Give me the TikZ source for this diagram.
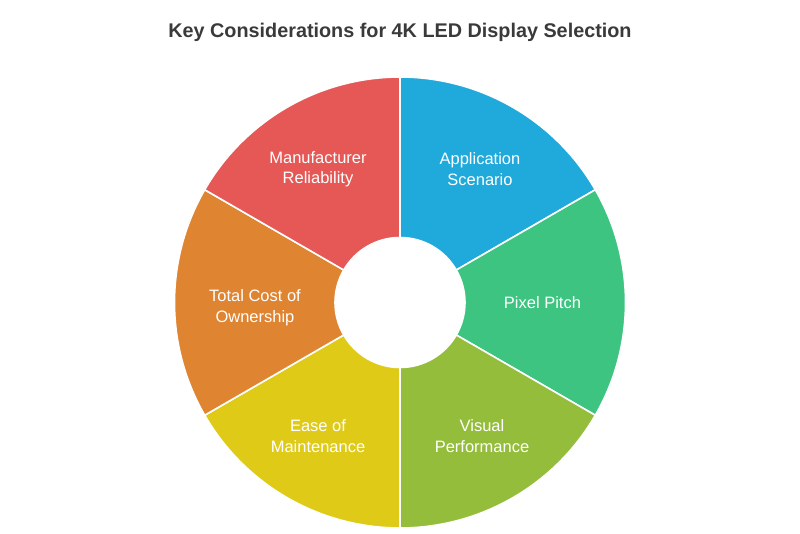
\documentclass[tikz,border=0pt]{standalone}
\usepackage{fontspec}
\setmainfont{Liberation Sans}
\usepackage{xcolor}
\usetikzlibrary{positioning}

\definecolor{appblue}{HTML}{20A9DB}
\definecolor{pitchgreen}{HTML}{3DC480}
\definecolor{visualgreen}{HTML}{93BD3A}
\definecolor{easeyellow}{HTML}{DFCA18}
\definecolor{costorange}{HTML}{DF8430}
\definecolor{mfrred}{HTML}{E55856}
\definecolor{titlegray}{HTML}{3A3A3A}

\begin{document}
\begin{tikzpicture}[
  x=1pt, y=1pt,
  every node/.style={font=\fontsize{16.5}{20.5}\selectfont},
  wedge/.style={draw=white, line width=1.6pt},
  lbl/.style={text=white, align=center, inner sep=0pt},
  heading/.style={font=\fontsize{19.8}{24}\selectfont\bfseries, text=titlegray}
]
% page frame, centre of the ring at the origin
\useasboundingbox (-400,-230.5) rectangle (400,302.5);

% Ring segments, clockwise from the top
\fill[appblue, wedge] (90:65) -- (90:225.5) arc[start angle=90, end angle=30, radius=225.5]
  -- (30:65) arc[start angle=30, end angle=90, radius=65] -- cycle;
\fill[pitchgreen, wedge] (30:65) -- (30:225.5) arc[start angle=30, end angle=-30, radius=225.5]
  -- (-30:65) arc[start angle=-30, end angle=30, radius=65] -- cycle;
\fill[visualgreen, wedge] (-30:65) -- (-30:225.5) arc[start angle=-30, end angle=-90, radius=225.5]
  -- (-90:65) arc[start angle=-90, end angle=-30, radius=65] -- cycle;
\fill[easeyellow, wedge] (-90:65) -- (-90:225.5) arc[start angle=-90, end angle=-150, radius=225.5]
  -- (-150:65) arc[start angle=-150, end angle=-90, radius=65] -- cycle;
\fill[costorange, wedge] (210:65) -- (210:225.5) arc[start angle=210, end angle=150, radius=225.5]
  -- (150:65) arc[start angle=150, end angle=210, radius=65] -- cycle;
\fill[mfrred, wedge] (150:65) -- (150:225.5) arc[start angle=150, end angle=90, radius=225.5]
  -- (90:65) arc[start angle=90, end angle=150, radius=65] -- cycle;

% Title
\node[heading] (title) at (0,270.5) {Key Considerations for 4K LED Display Selection};

% Segment labels
\node[lbl] (app)    at (80,133.5)   {Application\\Scenario};
\node[lbl] (pitch)  at (142.5,0)    {Pixel Pitch};
\node[lbl] (visual) at (82,-133.5)  {Visual\\Performance};
\node[lbl] (ease)   at (-82,-133.5) {Ease of\\Maintenance};
\node[lbl] (cost)   at (-145,-5)    {Total Cost of\\Ownership};
\node[lbl] (mfr)    at (-82,133.5)  {Manufacturer\\Reliability};

\end{tikzpicture}
\end{document}
